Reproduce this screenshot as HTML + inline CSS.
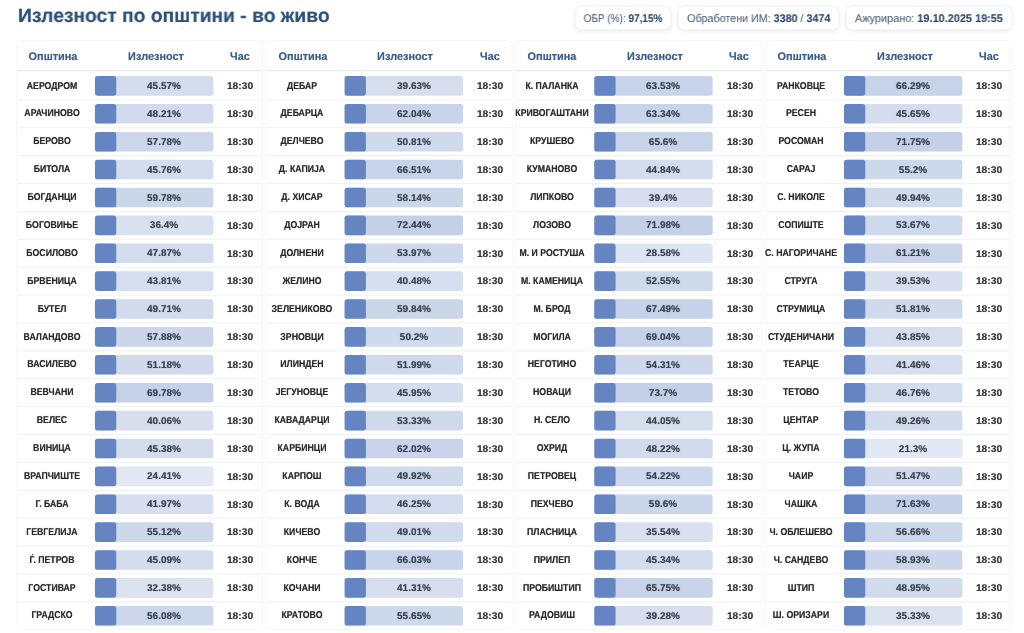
<!DOCTYPE html>
<html lang="mk"><head><meta charset="utf-8"><title>Излезност по општини</title>
<style>
*{box-sizing:border-box;margin:0;padding:0}
html,body{width:1024px;height:633px;overflow:hidden;background:#fff}
body{position:relative;font-family:"Liberation Sans",sans-serif;color:#222;text-rendering:geometricPrecision}
h1{position:absolute;left:18px;top:4.2px;font-size:19.4px;line-height:24px;font-weight:bold;color:#2c507c;white-space:nowrap;transform-origin:0 50%;transform:scaleX(.993);letter-spacing:0;will-change:transform;text-shadow:0 0 .8px rgba(44,80,124,.5)}
.pill{position:absolute;top:6px;height:23.8px;border-radius:6px;background:#fff;border:1px solid #f5f6f9;box-shadow:0 1px 4px rgba(30,50,90,.12);font-size:11.2px;line-height:24px;color:#566880;text-align:center;white-space:nowrap}
.pill b{color:#2d4a6e}
.pill span{display:inline-block;transform-origin:50% 50%;will-change:transform;text-shadow:0 0 .6px rgba(86,104,128,.4)}
.hd{position:absolute;width:0;overflow:visible;font-weight:bold;font-size:11.2px;color:#3b5f88;line-height:12px;height:12px}
.hd span,.nm span,.pc span,.tm span{position:absolute;left:-100px;width:200px;text-align:center;white-space:nowrap;display:block}
.bg{position:absolute;left:0;top:0}
.tx{position:absolute;left:0;top:0;width:1024px;height:633px;will-change:transform}
.nm,.tm{text-shadow:0 0 .8px rgba(40,40,40,.55)}
.pc{text-shadow:0 0 .8px rgba(57,65,80,.55)}
.hd{text-shadow:0 0 .8px rgba(59,95,136,.55)}
.nm{position:absolute;width:0;height:10px;font-weight:bold;font-size:10px;line-height:10px;color:#2a2a2a}
.pc{position:absolute;width:0;height:10px;font-weight:bold;font-size:9.8px;line-height:10px;color:#394150}
.tm{position:absolute;width:0;height:10px;font-weight:bold;font-size:9.8px;line-height:10px;color:#3a3a3a}
</style></head>
<body>
<h1>Излезност по општини - во живо</h1>
<div class="pill" style="left:574.5px;width:96px"><span style="transform:translateX(0.9px) scaleX(0.894)">ОБР (%): <b>97,15%</b></span></div>
<div class="pill" style="left:678.3px;width:161.2px"><span style="transform:translateX(0px) scaleX(0.959)">Обработени ИМ: <b>3380</b> / <b>3474</b></span></div>
<div class="pill" style="left:846px;width:165.8px"><span style="transform:translateX(0px) scaleX(0.975)">Ажурирано: <b>19.10.2025 19:55</b></span></div>
<svg class="bg" width="1024" height="633" viewBox="0 0 1024 633">
<rect x="16.5" y="40.6" width="246" height="588.8" rx="4" fill="#fff" stroke="#f6f7f9" stroke-width="1"/><rect x="17" y="70" width="245" height="1.2" fill="#e4e7ec"/><rect x="94.95" y="76.1" width="118.4" height="19.6" rx="2.6" fill="#6485c2" fill-opacity="0.282"/><rect x="94.95" y="76.1" width="21.3" height="19.6" rx="2.6" fill="#6485c2"/>
<rect x="17" y="99.34" width="245" height="1" fill="#f0f1f5"/><rect x="94.95" y="103.99" width="118.4" height="19.6" rx="2.6" fill="#6485c2" fill-opacity="0.293"/><rect x="94.95" y="103.99" width="21.3" height="19.6" rx="2.6" fill="#6485c2"/>
<rect x="17" y="127.23" width="245" height="1" fill="#f0f1f5"/><rect x="94.95" y="131.88" width="118.4" height="19.6" rx="2.6" fill="#6485c2" fill-opacity="0.331"/><rect x="94.95" y="131.88" width="21.3" height="19.6" rx="2.6" fill="#6485c2"/>
<rect x="17" y="155.12" width="245" height="1" fill="#f0f1f5"/><rect x="94.95" y="159.77" width="118.4" height="19.6" rx="2.6" fill="#6485c2" fill-opacity="0.283"/><rect x="94.95" y="159.77" width="21.3" height="19.6" rx="2.6" fill="#6485c2"/>
<rect x="17" y="183.01" width="245" height="1" fill="#f0f1f5"/><rect x="94.95" y="187.66" width="118.4" height="19.6" rx="2.6" fill="#6485c2" fill-opacity="0.339"/><rect x="94.95" y="187.66" width="21.3" height="19.6" rx="2.6" fill="#6485c2"/>
<rect x="17" y="210.9" width="245" height="1" fill="#f0f1f5"/><rect x="94.95" y="215.55" width="118.4" height="19.6" rx="2.6" fill="#6485c2" fill-opacity="0.246"/><rect x="94.95" y="215.55" width="21.3" height="19.6" rx="2.6" fill="#6485c2"/>
<rect x="17" y="238.79" width="245" height="1" fill="#f0f1f5"/><rect x="94.95" y="243.44" width="118.4" height="19.6" rx="2.6" fill="#6485c2" fill-opacity="0.291"/><rect x="94.95" y="243.44" width="21.3" height="19.6" rx="2.6" fill="#6485c2"/>
<rect x="17" y="266.68" width="245" height="1" fill="#f0f1f5"/><rect x="94.95" y="271.33" width="118.4" height="19.6" rx="2.6" fill="#6485c2" fill-opacity="0.275"/><rect x="94.95" y="271.33" width="21.3" height="19.6" rx="2.6" fill="#6485c2"/>
<rect x="17" y="294.57" width="245" height="1" fill="#f0f1f5"/><rect x="94.95" y="299.22" width="118.4" height="19.6" rx="2.6" fill="#6485c2" fill-opacity="0.299"/><rect x="94.95" y="299.22" width="21.3" height="19.6" rx="2.6" fill="#6485c2"/>
<rect x="17" y="322.46" width="245" height="1" fill="#f0f1f5"/><rect x="94.95" y="327.11" width="118.4" height="19.6" rx="2.6" fill="#6485c2" fill-opacity="0.332"/><rect x="94.95" y="327.11" width="21.3" height="19.6" rx="2.6" fill="#6485c2"/>
<rect x="17" y="350.35" width="245" height="1" fill="#f0f1f5"/><rect x="94.95" y="355" width="118.4" height="19.6" rx="2.6" fill="#6485c2" fill-opacity="0.305"/><rect x="94.95" y="355" width="21.3" height="19.6" rx="2.6" fill="#6485c2"/>
<rect x="17" y="378.24" width="245" height="1" fill="#f0f1f5"/><rect x="94.95" y="382.89" width="118.4" height="19.6" rx="2.6" fill="#6485c2" fill-opacity="0.379"/><rect x="94.95" y="382.89" width="21.3" height="19.6" rx="2.6" fill="#6485c2"/>
<rect x="17" y="406.13" width="245" height="1" fill="#f0f1f5"/><rect x="94.95" y="410.78" width="118.4" height="19.6" rx="2.6" fill="#6485c2" fill-opacity="0.260"/><rect x="94.95" y="410.78" width="21.3" height="19.6" rx="2.6" fill="#6485c2"/>
<rect x="17" y="434.02" width="245" height="1" fill="#f0f1f5"/><rect x="94.95" y="438.67" width="118.4" height="19.6" rx="2.6" fill="#6485c2" fill-opacity="0.282"/><rect x="94.95" y="438.67" width="21.3" height="19.6" rx="2.6" fill="#6485c2"/>
<rect x="17" y="461.91" width="245" height="1" fill="#f0f1f5"/><rect x="94.95" y="466.56" width="118.4" height="19.6" rx="2.6" fill="#6485c2" fill-opacity="0.198"/><rect x="94.95" y="466.56" width="21.3" height="19.6" rx="2.6" fill="#6485c2"/>
<rect x="17" y="489.8" width="245" height="1" fill="#f0f1f5"/><rect x="94.95" y="494.45" width="118.4" height="19.6" rx="2.6" fill="#6485c2" fill-opacity="0.268"/><rect x="94.95" y="494.45" width="21.3" height="19.6" rx="2.6" fill="#6485c2"/>
<rect x="17" y="517.69" width="245" height="1" fill="#f0f1f5"/><rect x="94.95" y="522.34" width="118.4" height="19.6" rx="2.6" fill="#6485c2" fill-opacity="0.320"/><rect x="94.95" y="522.34" width="21.3" height="19.6" rx="2.6" fill="#6485c2"/>
<rect x="17" y="545.58" width="245" height="1" fill="#f0f1f5"/><rect x="94.95" y="550.23" width="118.4" height="19.6" rx="2.6" fill="#6485c2" fill-opacity="0.280"/><rect x="94.95" y="550.23" width="21.3" height="19.6" rx="2.6" fill="#6485c2"/>
<rect x="17" y="573.47" width="245" height="1" fill="#f0f1f5"/><rect x="94.95" y="578.12" width="118.4" height="19.6" rx="2.6" fill="#6485c2" fill-opacity="0.230"/><rect x="94.95" y="578.12" width="21.3" height="19.6" rx="2.6" fill="#6485c2"/>
<rect x="17" y="601.36" width="245" height="1" fill="#f0f1f5"/><rect x="94.95" y="606.01" width="118.4" height="19.6" rx="2.6" fill="#6485c2" fill-opacity="0.324"/><rect x="94.95" y="606.01" width="21.3" height="19.6" rx="2.6" fill="#6485c2"/>
<rect x="266.17" y="40.6" width="246" height="588.8" rx="4" fill="#fff" stroke="#f6f7f9" stroke-width="1"/><rect x="266.67" y="70" width="245" height="1.2" fill="#e4e7ec"/><rect x="344.62" y="76.1" width="118.4" height="19.6" rx="2.6" fill="#6485c2" fill-opacity="0.259"/><rect x="344.62" y="76.1" width="21.3" height="19.6" rx="2.6" fill="#6485c2"/>
<rect x="266.67" y="99.34" width="245" height="1" fill="#f0f1f5"/><rect x="344.62" y="103.99" width="118.4" height="19.6" rx="2.6" fill="#6485c2" fill-opacity="0.348"/><rect x="344.62" y="103.99" width="21.3" height="19.6" rx="2.6" fill="#6485c2"/>
<rect x="266.67" y="127.23" width="245" height="1" fill="#f0f1f5"/><rect x="344.62" y="131.88" width="118.4" height="19.6" rx="2.6" fill="#6485c2" fill-opacity="0.303"/><rect x="344.62" y="131.88" width="21.3" height="19.6" rx="2.6" fill="#6485c2"/>
<rect x="266.67" y="155.12" width="245" height="1" fill="#f0f1f5"/><rect x="344.62" y="159.77" width="118.4" height="19.6" rx="2.6" fill="#6485c2" fill-opacity="0.366"/><rect x="344.62" y="159.77" width="21.3" height="19.6" rx="2.6" fill="#6485c2"/>
<rect x="266.67" y="183.01" width="245" height="1" fill="#f0f1f5"/><rect x="344.62" y="187.66" width="118.4" height="19.6" rx="2.6" fill="#6485c2" fill-opacity="0.333"/><rect x="344.62" y="187.66" width="21.3" height="19.6" rx="2.6" fill="#6485c2"/>
<rect x="266.67" y="210.9" width="245" height="1" fill="#f0f1f5"/><rect x="344.62" y="215.55" width="118.4" height="19.6" rx="2.6" fill="#6485c2" fill-opacity="0.390"/><rect x="344.62" y="215.55" width="21.3" height="19.6" rx="2.6" fill="#6485c2"/>
<rect x="266.67" y="238.79" width="245" height="1" fill="#f0f1f5"/><rect x="344.62" y="243.44" width="118.4" height="19.6" rx="2.6" fill="#6485c2" fill-opacity="0.316"/><rect x="344.62" y="243.44" width="21.3" height="19.6" rx="2.6" fill="#6485c2"/>
<rect x="266.67" y="266.68" width="245" height="1" fill="#f0f1f5"/><rect x="344.62" y="271.33" width="118.4" height="19.6" rx="2.6" fill="#6485c2" fill-opacity="0.262"/><rect x="344.62" y="271.33" width="21.3" height="19.6" rx="2.6" fill="#6485c2"/>
<rect x="266.67" y="294.57" width="245" height="1" fill="#f0f1f5"/><rect x="344.62" y="299.22" width="118.4" height="19.6" rx="2.6" fill="#6485c2" fill-opacity="0.339"/><rect x="344.62" y="299.22" width="21.3" height="19.6" rx="2.6" fill="#6485c2"/>
<rect x="266.67" y="322.46" width="245" height="1" fill="#f0f1f5"/><rect x="344.62" y="327.11" width="118.4" height="19.6" rx="2.6" fill="#6485c2" fill-opacity="0.301"/><rect x="344.62" y="327.11" width="21.3" height="19.6" rx="2.6" fill="#6485c2"/>
<rect x="266.67" y="350.35" width="245" height="1" fill="#f0f1f5"/><rect x="344.62" y="355" width="118.4" height="19.6" rx="2.6" fill="#6485c2" fill-opacity="0.308"/><rect x="344.62" y="355" width="21.3" height="19.6" rx="2.6" fill="#6485c2"/>
<rect x="266.67" y="378.24" width="245" height="1" fill="#f0f1f5"/><rect x="344.62" y="382.89" width="118.4" height="19.6" rx="2.6" fill="#6485c2" fill-opacity="0.284"/><rect x="344.62" y="382.89" width="21.3" height="19.6" rx="2.6" fill="#6485c2"/>
<rect x="266.67" y="406.13" width="245" height="1" fill="#f0f1f5"/><rect x="344.62" y="410.78" width="118.4" height="19.6" rx="2.6" fill="#6485c2" fill-opacity="0.313"/><rect x="344.62" y="410.78" width="21.3" height="19.6" rx="2.6" fill="#6485c2"/>
<rect x="266.67" y="434.02" width="245" height="1" fill="#f0f1f5"/><rect x="344.62" y="438.67" width="118.4" height="19.6" rx="2.6" fill="#6485c2" fill-opacity="0.348"/><rect x="344.62" y="438.67" width="21.3" height="19.6" rx="2.6" fill="#6485c2"/>
<rect x="266.67" y="461.91" width="245" height="1" fill="#f0f1f5"/><rect x="344.62" y="466.56" width="118.4" height="19.6" rx="2.6" fill="#6485c2" fill-opacity="0.300"/><rect x="344.62" y="466.56" width="21.3" height="19.6" rx="2.6" fill="#6485c2"/>
<rect x="266.67" y="489.8" width="245" height="1" fill="#f0f1f5"/><rect x="344.62" y="494.45" width="118.4" height="19.6" rx="2.6" fill="#6485c2" fill-opacity="0.285"/><rect x="344.62" y="494.45" width="21.3" height="19.6" rx="2.6" fill="#6485c2"/>
<rect x="266.67" y="517.69" width="245" height="1" fill="#f0f1f5"/><rect x="344.62" y="522.34" width="118.4" height="19.6" rx="2.6" fill="#6485c2" fill-opacity="0.296"/><rect x="344.62" y="522.34" width="21.3" height="19.6" rx="2.6" fill="#6485c2"/>
<rect x="266.67" y="545.58" width="245" height="1" fill="#f0f1f5"/><rect x="344.62" y="550.23" width="118.4" height="19.6" rx="2.6" fill="#6485c2" fill-opacity="0.364"/><rect x="344.62" y="550.23" width="21.3" height="19.6" rx="2.6" fill="#6485c2"/>
<rect x="266.67" y="573.47" width="245" height="1" fill="#f0f1f5"/><rect x="344.62" y="578.12" width="118.4" height="19.6" rx="2.6" fill="#6485c2" fill-opacity="0.265"/><rect x="344.62" y="578.12" width="21.3" height="19.6" rx="2.6" fill="#6485c2"/>
<rect x="266.67" y="601.36" width="245" height="1" fill="#f0f1f5"/><rect x="344.62" y="606.01" width="118.4" height="19.6" rx="2.6" fill="#6485c2" fill-opacity="0.323"/><rect x="344.62" y="606.01" width="21.3" height="19.6" rx="2.6" fill="#6485c2"/>
<rect x="515.84" y="40.6" width="246" height="588.8" rx="4" fill="#fff" stroke="#f6f7f9" stroke-width="1"/><rect x="516.34" y="70" width="245" height="1.2" fill="#e4e7ec"/><rect x="594.29" y="76.1" width="118.4" height="19.6" rx="2.6" fill="#6485c2" fill-opacity="0.354"/><rect x="594.29" y="76.1" width="21.3" height="19.6" rx="2.6" fill="#6485c2"/>
<rect x="516.34" y="99.34" width="245" height="1" fill="#f0f1f5"/><rect x="594.29" y="103.99" width="118.4" height="19.6" rx="2.6" fill="#6485c2" fill-opacity="0.353"/><rect x="594.29" y="103.99" width="21.3" height="19.6" rx="2.6" fill="#6485c2"/>
<rect x="516.34" y="127.23" width="245" height="1" fill="#f0f1f5"/><rect x="594.29" y="131.88" width="118.4" height="19.6" rx="2.6" fill="#6485c2" fill-opacity="0.362"/><rect x="594.29" y="131.88" width="21.3" height="19.6" rx="2.6" fill="#6485c2"/>
<rect x="516.34" y="155.12" width="245" height="1" fill="#f0f1f5"/><rect x="594.29" y="159.77" width="118.4" height="19.6" rx="2.6" fill="#6485c2" fill-opacity="0.279"/><rect x="594.29" y="159.77" width="21.3" height="19.6" rx="2.6" fill="#6485c2"/>
<rect x="516.34" y="183.01" width="245" height="1" fill="#f0f1f5"/><rect x="594.29" y="187.66" width="118.4" height="19.6" rx="2.6" fill="#6485c2" fill-opacity="0.258"/><rect x="594.29" y="187.66" width="21.3" height="19.6" rx="2.6" fill="#6485c2"/>
<rect x="516.34" y="210.9" width="245" height="1" fill="#f0f1f5"/><rect x="594.29" y="215.55" width="118.4" height="19.6" rx="2.6" fill="#6485c2" fill-opacity="0.388"/><rect x="594.29" y="215.55" width="21.3" height="19.6" rx="2.6" fill="#6485c2"/>
<rect x="516.34" y="238.79" width="245" height="1" fill="#f0f1f5"/><rect x="594.29" y="243.44" width="118.4" height="19.6" rx="2.6" fill="#6485c2" fill-opacity="0.214"/><rect x="594.29" y="243.44" width="21.3" height="19.6" rx="2.6" fill="#6485c2"/>
<rect x="516.34" y="266.68" width="245" height="1" fill="#f0f1f5"/><rect x="594.29" y="271.33" width="118.4" height="19.6" rx="2.6" fill="#6485c2" fill-opacity="0.310"/><rect x="594.29" y="271.33" width="21.3" height="19.6" rx="2.6" fill="#6485c2"/>
<rect x="516.34" y="294.57" width="245" height="1" fill="#f0f1f5"/><rect x="594.29" y="299.22" width="118.4" height="19.6" rx="2.6" fill="#6485c2" fill-opacity="0.370"/><rect x="594.29" y="299.22" width="21.3" height="19.6" rx="2.6" fill="#6485c2"/>
<rect x="516.34" y="322.46" width="245" height="1" fill="#f0f1f5"/><rect x="594.29" y="327.11" width="118.4" height="19.6" rx="2.6" fill="#6485c2" fill-opacity="0.376"/><rect x="594.29" y="327.11" width="21.3" height="19.6" rx="2.6" fill="#6485c2"/>
<rect x="516.34" y="350.35" width="245" height="1" fill="#f0f1f5"/><rect x="594.29" y="355" width="118.4" height="19.6" rx="2.6" fill="#6485c2" fill-opacity="0.317"/><rect x="594.29" y="355" width="21.3" height="19.6" rx="2.6" fill="#6485c2"/>
<rect x="516.34" y="378.24" width="245" height="1" fill="#f0f1f5"/><rect x="594.29" y="382.89" width="118.4" height="19.6" rx="2.6" fill="#6485c2" fill-opacity="0.395"/><rect x="594.29" y="382.89" width="21.3" height="19.6" rx="2.6" fill="#6485c2"/>
<rect x="516.34" y="406.13" width="245" height="1" fill="#f0f1f5"/><rect x="594.29" y="410.78" width="118.4" height="19.6" rx="2.6" fill="#6485c2" fill-opacity="0.276"/><rect x="594.29" y="410.78" width="21.3" height="19.6" rx="2.6" fill="#6485c2"/>
<rect x="516.34" y="434.02" width="245" height="1" fill="#f0f1f5"/><rect x="594.29" y="438.67" width="118.4" height="19.6" rx="2.6" fill="#6485c2" fill-opacity="0.293"/><rect x="594.29" y="438.67" width="21.3" height="19.6" rx="2.6" fill="#6485c2"/>
<rect x="516.34" y="461.91" width="245" height="1" fill="#f0f1f5"/><rect x="594.29" y="466.56" width="118.4" height="19.6" rx="2.6" fill="#6485c2" fill-opacity="0.317"/><rect x="594.29" y="466.56" width="21.3" height="19.6" rx="2.6" fill="#6485c2"/>
<rect x="516.34" y="489.8" width="245" height="1" fill="#f0f1f5"/><rect x="594.29" y="494.45" width="118.4" height="19.6" rx="2.6" fill="#6485c2" fill-opacity="0.338"/><rect x="594.29" y="494.45" width="21.3" height="19.6" rx="2.6" fill="#6485c2"/>
<rect x="516.34" y="517.69" width="245" height="1" fill="#f0f1f5"/><rect x="594.29" y="522.34" width="118.4" height="19.6" rx="2.6" fill="#6485c2" fill-opacity="0.242"/><rect x="594.29" y="522.34" width="21.3" height="19.6" rx="2.6" fill="#6485c2"/>
<rect x="516.34" y="545.58" width="245" height="1" fill="#f0f1f5"/><rect x="594.29" y="550.23" width="118.4" height="19.6" rx="2.6" fill="#6485c2" fill-opacity="0.281"/><rect x="594.29" y="550.23" width="21.3" height="19.6" rx="2.6" fill="#6485c2"/>
<rect x="516.34" y="573.47" width="245" height="1" fill="#f0f1f5"/><rect x="594.29" y="578.12" width="118.4" height="19.6" rx="2.6" fill="#6485c2" fill-opacity="0.363"/><rect x="594.29" y="578.12" width="21.3" height="19.6" rx="2.6" fill="#6485c2"/>
<rect x="516.34" y="601.36" width="245" height="1" fill="#f0f1f5"/><rect x="594.29" y="606.01" width="118.4" height="19.6" rx="2.6" fill="#6485c2" fill-opacity="0.257"/><rect x="594.29" y="606.01" width="21.3" height="19.6" rx="2.6" fill="#6485c2"/>
<rect x="765.51" y="40.6" width="246" height="588.8" rx="4" fill="#fff" stroke="#f6f7f9" stroke-width="1"/><rect x="766.01" y="70" width="245" height="1.2" fill="#e4e7ec"/><rect x="843.96" y="76.1" width="118.4" height="19.6" rx="2.6" fill="#6485c2" fill-opacity="0.365"/><rect x="843.96" y="76.1" width="21.3" height="19.6" rx="2.6" fill="#6485c2"/>
<rect x="766.01" y="99.34" width="245" height="1" fill="#f0f1f5"/><rect x="843.96" y="103.99" width="118.4" height="19.6" rx="2.6" fill="#6485c2" fill-opacity="0.283"/><rect x="843.96" y="103.99" width="21.3" height="19.6" rx="2.6" fill="#6485c2"/>
<rect x="766.01" y="127.23" width="245" height="1" fill="#f0f1f5"/><rect x="843.96" y="131.88" width="118.4" height="19.6" rx="2.6" fill="#6485c2" fill-opacity="0.387"/><rect x="843.96" y="131.88" width="21.3" height="19.6" rx="2.6" fill="#6485c2"/>
<rect x="766.01" y="155.12" width="245" height="1" fill="#f0f1f5"/><rect x="843.96" y="159.77" width="118.4" height="19.6" rx="2.6" fill="#6485c2" fill-opacity="0.321"/><rect x="843.96" y="159.77" width="21.3" height="19.6" rx="2.6" fill="#6485c2"/>
<rect x="766.01" y="183.01" width="245" height="1" fill="#f0f1f5"/><rect x="843.96" y="187.66" width="118.4" height="19.6" rx="2.6" fill="#6485c2" fill-opacity="0.300"/><rect x="843.96" y="187.66" width="21.3" height="19.6" rx="2.6" fill="#6485c2"/>
<rect x="766.01" y="210.9" width="245" height="1" fill="#f0f1f5"/><rect x="843.96" y="215.55" width="118.4" height="19.6" rx="2.6" fill="#6485c2" fill-opacity="0.315"/><rect x="843.96" y="215.55" width="21.3" height="19.6" rx="2.6" fill="#6485c2"/>
<rect x="766.01" y="238.79" width="245" height="1" fill="#f0f1f5"/><rect x="843.96" y="243.44" width="118.4" height="19.6" rx="2.6" fill="#6485c2" fill-opacity="0.345"/><rect x="843.96" y="243.44" width="21.3" height="19.6" rx="2.6" fill="#6485c2"/>
<rect x="766.01" y="266.68" width="245" height="1" fill="#f0f1f5"/><rect x="843.96" y="271.33" width="118.4" height="19.6" rx="2.6" fill="#6485c2" fill-opacity="0.258"/><rect x="843.96" y="271.33" width="21.3" height="19.6" rx="2.6" fill="#6485c2"/>
<rect x="766.01" y="294.57" width="245" height="1" fill="#f0f1f5"/><rect x="843.96" y="299.22" width="118.4" height="19.6" rx="2.6" fill="#6485c2" fill-opacity="0.307"/><rect x="843.96" y="299.22" width="21.3" height="19.6" rx="2.6" fill="#6485c2"/>
<rect x="766.01" y="322.46" width="245" height="1" fill="#f0f1f5"/><rect x="843.96" y="327.11" width="118.4" height="19.6" rx="2.6" fill="#6485c2" fill-opacity="0.275"/><rect x="843.96" y="327.11" width="21.3" height="19.6" rx="2.6" fill="#6485c2"/>
<rect x="766.01" y="350.35" width="245" height="1" fill="#f0f1f5"/><rect x="843.96" y="355" width="118.4" height="19.6" rx="2.6" fill="#6485c2" fill-opacity="0.266"/><rect x="843.96" y="355" width="21.3" height="19.6" rx="2.6" fill="#6485c2"/>
<rect x="766.01" y="378.24" width="245" height="1" fill="#f0f1f5"/><rect x="843.96" y="382.89" width="118.4" height="19.6" rx="2.6" fill="#6485c2" fill-opacity="0.287"/><rect x="843.96" y="382.89" width="21.3" height="19.6" rx="2.6" fill="#6485c2"/>
<rect x="766.01" y="406.13" width="245" height="1" fill="#f0f1f5"/><rect x="843.96" y="410.78" width="118.4" height="19.6" rx="2.6" fill="#6485c2" fill-opacity="0.297"/><rect x="843.96" y="410.78" width="21.3" height="19.6" rx="2.6" fill="#6485c2"/>
<rect x="766.01" y="434.02" width="245" height="1" fill="#f0f1f5"/><rect x="843.96" y="438.67" width="118.4" height="19.6" rx="2.6" fill="#6485c2" fill-opacity="0.185"/><rect x="843.96" y="438.67" width="21.3" height="19.6" rx="2.6" fill="#6485c2"/>
<rect x="766.01" y="461.91" width="245" height="1" fill="#f0f1f5"/><rect x="843.96" y="466.56" width="118.4" height="19.6" rx="2.6" fill="#6485c2" fill-opacity="0.306"/><rect x="843.96" y="466.56" width="21.3" height="19.6" rx="2.6" fill="#6485c2"/>
<rect x="766.01" y="489.8" width="245" height="1" fill="#f0f1f5"/><rect x="843.96" y="494.45" width="118.4" height="19.6" rx="2.6" fill="#6485c2" fill-opacity="0.387"/><rect x="843.96" y="494.45" width="21.3" height="19.6" rx="2.6" fill="#6485c2"/>
<rect x="766.01" y="517.69" width="245" height="1" fill="#f0f1f5"/><rect x="843.96" y="522.34" width="118.4" height="19.6" rx="2.6" fill="#6485c2" fill-opacity="0.327"/><rect x="843.96" y="522.34" width="21.3" height="19.6" rx="2.6" fill="#6485c2"/>
<rect x="766.01" y="545.58" width="245" height="1" fill="#f0f1f5"/><rect x="843.96" y="550.23" width="118.4" height="19.6" rx="2.6" fill="#6485c2" fill-opacity="0.336"/><rect x="843.96" y="550.23" width="21.3" height="19.6" rx="2.6" fill="#6485c2"/>
<rect x="766.01" y="573.47" width="245" height="1" fill="#f0f1f5"/><rect x="843.96" y="578.12" width="118.4" height="19.6" rx="2.6" fill="#6485c2" fill-opacity="0.296"/><rect x="843.96" y="578.12" width="21.3" height="19.6" rx="2.6" fill="#6485c2"/>
<rect x="766.01" y="601.36" width="245" height="1" fill="#f0f1f5"/><rect x="843.96" y="606.01" width="118.4" height="19.6" rx="2.6" fill="#6485c2" fill-opacity="0.241"/><rect x="843.96" y="606.01" width="21.3" height="19.6" rx="2.6" fill="#6485c2"/>
</svg>
<div class="tx">
<div class="hd" style="left:52.9px;top:50.8px"><span style="transform:scaleX(.975)">Општина</span></div><div class="hd" style="left:155.5px;top:50.8px"><span style="transform:scaleX(.975)">Излезност</span></div><div class="hd" style="left:240.1px;top:50.8px"><span style="transform:scaleX(.975)">Час</span></div>
<div class="nm" style="left:52.2px;top:81.5px"><span style="transform:scaleX(.872)">АЕРОДРОМ</span></div><div class="pc" style="left:164.1px;top:82px"><span style="transform:scaleX(1.02)">45.57%</span></div><div class="tm" style="left:240.2px;top:82.2px"><span style="transform:scaleX(1.045)">18:30</span></div>
<div class="nm" style="left:52.2px;top:109.39px"><span style="transform:scaleX(.872)">АРАЧИНОВО</span></div><div class="pc" style="left:164.1px;top:109.89px"><span style="transform:scaleX(1.02)">48.21%</span></div><div class="tm" style="left:240.2px;top:110.09px"><span style="transform:scaleX(1.045)">18:30</span></div>
<div class="nm" style="left:52.2px;top:137.28px"><span style="transform:scaleX(.872)">БЕРОВО</span></div><div class="pc" style="left:164.1px;top:137.78px"><span style="transform:scaleX(1.02)">57.78%</span></div><div class="tm" style="left:240.2px;top:137.98px"><span style="transform:scaleX(1.045)">18:30</span></div>
<div class="nm" style="left:52.2px;top:165.17px"><span style="transform:scaleX(.872)">БИТОЛА</span></div><div class="pc" style="left:164.1px;top:165.67px"><span style="transform:scaleX(1.02)">45.76%</span></div><div class="tm" style="left:240.2px;top:165.87px"><span style="transform:scaleX(1.045)">18:30</span></div>
<div class="nm" style="left:52.2px;top:193.06px"><span style="transform:scaleX(.872)">БОГДАНЦИ</span></div><div class="pc" style="left:164.1px;top:193.56px"><span style="transform:scaleX(1.02)">59.78%</span></div><div class="tm" style="left:240.2px;top:193.76px"><span style="transform:scaleX(1.045)">18:30</span></div>
<div class="nm" style="left:52.2px;top:220.95px"><span style="transform:scaleX(.872)">БОГОВИЊЕ</span></div><div class="pc" style="left:164.1px;top:221.45px"><span style="transform:scaleX(1.02)">36.4%</span></div><div class="tm" style="left:240.2px;top:221.65px"><span style="transform:scaleX(1.045)">18:30</span></div>
<div class="nm" style="left:52.2px;top:248.84px"><span style="transform:scaleX(.872)">БОСИЛОВО</span></div><div class="pc" style="left:164.1px;top:249.34px"><span style="transform:scaleX(1.02)">47.87%</span></div><div class="tm" style="left:240.2px;top:249.54px"><span style="transform:scaleX(1.045)">18:30</span></div>
<div class="nm" style="left:52.2px;top:276.73px"><span style="transform:scaleX(.872)">БРВЕНИЦА</span></div><div class="pc" style="left:164.1px;top:277.23px"><span style="transform:scaleX(1.02)">43.81%</span></div><div class="tm" style="left:240.2px;top:277.43px"><span style="transform:scaleX(1.045)">18:30</span></div>
<div class="nm" style="left:52.2px;top:304.62px"><span style="transform:scaleX(.872)">БУТЕЛ</span></div><div class="pc" style="left:164.1px;top:305.12px"><span style="transform:scaleX(1.02)">49.71%</span></div><div class="tm" style="left:240.2px;top:305.32px"><span style="transform:scaleX(1.045)">18:30</span></div>
<div class="nm" style="left:52.2px;top:332.51px"><span style="transform:scaleX(.872)">ВАЛАНДОВО</span></div><div class="pc" style="left:164.1px;top:333.01px"><span style="transform:scaleX(1.02)">57.88%</span></div><div class="tm" style="left:240.2px;top:333.21px"><span style="transform:scaleX(1.045)">18:30</span></div>
<div class="nm" style="left:52.2px;top:360.4px"><span style="transform:scaleX(.872)">ВАСИЛЕВО</span></div><div class="pc" style="left:164.1px;top:360.9px"><span style="transform:scaleX(1.02)">51.18%</span></div><div class="tm" style="left:240.2px;top:361.1px"><span style="transform:scaleX(1.045)">18:30</span></div>
<div class="nm" style="left:52.2px;top:388.29px"><span style="transform:scaleX(.872)">ВЕВЧАНИ</span></div><div class="pc" style="left:164.1px;top:388.79px"><span style="transform:scaleX(1.02)">69.78%</span></div><div class="tm" style="left:240.2px;top:388.99px"><span style="transform:scaleX(1.045)">18:30</span></div>
<div class="nm" style="left:52.2px;top:416.18px"><span style="transform:scaleX(.872)">ВЕЛЕС</span></div><div class="pc" style="left:164.1px;top:416.68px"><span style="transform:scaleX(1.02)">40.06%</span></div><div class="tm" style="left:240.2px;top:416.88px"><span style="transform:scaleX(1.045)">18:30</span></div>
<div class="nm" style="left:52.2px;top:444.07px"><span style="transform:scaleX(.872)">ВИНИЦА</span></div><div class="pc" style="left:164.1px;top:444.57px"><span style="transform:scaleX(1.02)">45.38%</span></div><div class="tm" style="left:240.2px;top:444.77px"><span style="transform:scaleX(1.045)">18:30</span></div>
<div class="nm" style="left:52.2px;top:471.96px"><span style="transform:scaleX(.872)">ВРАПЧИШТЕ</span></div><div class="pc" style="left:164.1px;top:472.46px"><span style="transform:scaleX(1.02)">24.41%</span></div><div class="tm" style="left:240.2px;top:472.66px"><span style="transform:scaleX(1.045)">18:30</span></div>
<div class="nm" style="left:52.2px;top:499.85px"><span style="transform:scaleX(.872)">Г. БАБА</span></div><div class="pc" style="left:164.1px;top:500.35px"><span style="transform:scaleX(1.02)">41.97%</span></div><div class="tm" style="left:240.2px;top:500.55px"><span style="transform:scaleX(1.045)">18:30</span></div>
<div class="nm" style="left:52.2px;top:527.74px"><span style="transform:scaleX(.872)">ГЕВГЕЛИЈА</span></div><div class="pc" style="left:164.1px;top:528.24px"><span style="transform:scaleX(1.02)">55.12%</span></div><div class="tm" style="left:240.2px;top:528.44px"><span style="transform:scaleX(1.045)">18:30</span></div>
<div class="nm" style="left:52.2px;top:555.63px"><span style="transform:scaleX(.872)">Ѓ. ПЕТРОВ</span></div><div class="pc" style="left:164.1px;top:556.13px"><span style="transform:scaleX(1.02)">45.09%</span></div><div class="tm" style="left:240.2px;top:556.33px"><span style="transform:scaleX(1.045)">18:30</span></div>
<div class="nm" style="left:52.2px;top:583.52px"><span style="transform:scaleX(.872)">ГОСТИВАР</span></div><div class="pc" style="left:164.1px;top:584.02px"><span style="transform:scaleX(1.02)">32.38%</span></div><div class="tm" style="left:240.2px;top:584.22px"><span style="transform:scaleX(1.045)">18:30</span></div>
<div class="nm" style="left:52.2px;top:611.41px"><span style="transform:scaleX(.872)">ГРАДСКО</span></div><div class="pc" style="left:164.1px;top:611.91px"><span style="transform:scaleX(1.02)">56.08%</span></div><div class="tm" style="left:240.2px;top:612.11px"><span style="transform:scaleX(1.045)">18:30</span></div>
<div class="hd" style="left:302.57px;top:50.8px"><span style="transform:scaleX(.975)">Општина</span></div><div class="hd" style="left:405.17px;top:50.8px"><span style="transform:scaleX(.975)">Излезност</span></div><div class="hd" style="left:489.77px;top:50.8px"><span style="transform:scaleX(.975)">Час</span></div>
<div class="nm" style="left:301.87px;top:81.5px"><span style="transform:scaleX(.872)">ДЕБАР</span></div><div class="pc" style="left:413.77px;top:82px"><span style="transform:scaleX(1.02)">39.63%</span></div><div class="tm" style="left:489.87px;top:82.2px"><span style="transform:scaleX(1.045)">18:30</span></div>
<div class="nm" style="left:301.87px;top:109.39px"><span style="transform:scaleX(.872)">ДЕБАРЦА</span></div><div class="pc" style="left:413.77px;top:109.89px"><span style="transform:scaleX(1.02)">62.04%</span></div><div class="tm" style="left:489.87px;top:110.09px"><span style="transform:scaleX(1.045)">18:30</span></div>
<div class="nm" style="left:301.87px;top:137.28px"><span style="transform:scaleX(.872)">ДЕЛЧЕВО</span></div><div class="pc" style="left:413.77px;top:137.78px"><span style="transform:scaleX(1.02)">50.81%</span></div><div class="tm" style="left:489.87px;top:137.98px"><span style="transform:scaleX(1.045)">18:30</span></div>
<div class="nm" style="left:301.87px;top:165.17px"><span style="transform:scaleX(.872)">Д. КАПИЈА</span></div><div class="pc" style="left:413.77px;top:165.67px"><span style="transform:scaleX(1.02)">66.51%</span></div><div class="tm" style="left:489.87px;top:165.87px"><span style="transform:scaleX(1.045)">18:30</span></div>
<div class="nm" style="left:301.87px;top:193.06px"><span style="transform:scaleX(.872)">Д. ХИСАР</span></div><div class="pc" style="left:413.77px;top:193.56px"><span style="transform:scaleX(1.02)">58.14%</span></div><div class="tm" style="left:489.87px;top:193.76px"><span style="transform:scaleX(1.045)">18:30</span></div>
<div class="nm" style="left:301.87px;top:220.95px"><span style="transform:scaleX(.872)">ДОЈРАН</span></div><div class="pc" style="left:413.77px;top:221.45px"><span style="transform:scaleX(1.02)">72.44%</span></div><div class="tm" style="left:489.87px;top:221.65px"><span style="transform:scaleX(1.045)">18:30</span></div>
<div class="nm" style="left:301.87px;top:248.84px"><span style="transform:scaleX(.872)">ДОЛНЕНИ</span></div><div class="pc" style="left:413.77px;top:249.34px"><span style="transform:scaleX(1.02)">53.97%</span></div><div class="tm" style="left:489.87px;top:249.54px"><span style="transform:scaleX(1.045)">18:30</span></div>
<div class="nm" style="left:301.87px;top:276.73px"><span style="transform:scaleX(.872)">ЖЕЛИНО</span></div><div class="pc" style="left:413.77px;top:277.23px"><span style="transform:scaleX(1.02)">40.48%</span></div><div class="tm" style="left:489.87px;top:277.43px"><span style="transform:scaleX(1.045)">18:30</span></div>
<div class="nm" style="left:301.87px;top:304.62px"><span style="transform:scaleX(.872)">ЗЕЛЕНИКОВО</span></div><div class="pc" style="left:413.77px;top:305.12px"><span style="transform:scaleX(1.02)">59.84%</span></div><div class="tm" style="left:489.87px;top:305.32px"><span style="transform:scaleX(1.045)">18:30</span></div>
<div class="nm" style="left:301.87px;top:332.51px"><span style="transform:scaleX(.872)">ЗРНОВЦИ</span></div><div class="pc" style="left:413.77px;top:333.01px"><span style="transform:scaleX(1.02)">50.2%</span></div><div class="tm" style="left:489.87px;top:333.21px"><span style="transform:scaleX(1.045)">18:30</span></div>
<div class="nm" style="left:301.87px;top:360.4px"><span style="transform:scaleX(.872)">ИЛИНДЕН</span></div><div class="pc" style="left:413.77px;top:360.9px"><span style="transform:scaleX(1.02)">51.99%</span></div><div class="tm" style="left:489.87px;top:361.1px"><span style="transform:scaleX(1.045)">18:30</span></div>
<div class="nm" style="left:301.87px;top:388.29px"><span style="transform:scaleX(.872)">ЈЕГУНОВЦЕ</span></div><div class="pc" style="left:413.77px;top:388.79px"><span style="transform:scaleX(1.02)">45.95%</span></div><div class="tm" style="left:489.87px;top:388.99px"><span style="transform:scaleX(1.045)">18:30</span></div>
<div class="nm" style="left:301.87px;top:416.18px"><span style="transform:scaleX(.872)">КАВАДАРЦИ</span></div><div class="pc" style="left:413.77px;top:416.68px"><span style="transform:scaleX(1.02)">53.33%</span></div><div class="tm" style="left:489.87px;top:416.88px"><span style="transform:scaleX(1.045)">18:30</span></div>
<div class="nm" style="left:301.87px;top:444.07px"><span style="transform:scaleX(.872)">КАРБИНЦИ</span></div><div class="pc" style="left:413.77px;top:444.57px"><span style="transform:scaleX(1.02)">62.02%</span></div><div class="tm" style="left:489.87px;top:444.77px"><span style="transform:scaleX(1.045)">18:30</span></div>
<div class="nm" style="left:301.87px;top:471.96px"><span style="transform:scaleX(.872)">КАРПОШ</span></div><div class="pc" style="left:413.77px;top:472.46px"><span style="transform:scaleX(1.02)">49.92%</span></div><div class="tm" style="left:489.87px;top:472.66px"><span style="transform:scaleX(1.045)">18:30</span></div>
<div class="nm" style="left:301.87px;top:499.85px"><span style="transform:scaleX(.872)">К. ВОДА</span></div><div class="pc" style="left:413.77px;top:500.35px"><span style="transform:scaleX(1.02)">46.25%</span></div><div class="tm" style="left:489.87px;top:500.55px"><span style="transform:scaleX(1.045)">18:30</span></div>
<div class="nm" style="left:301.87px;top:527.74px"><span style="transform:scaleX(.872)">КИЧЕВО</span></div><div class="pc" style="left:413.77px;top:528.24px"><span style="transform:scaleX(1.02)">49.01%</span></div><div class="tm" style="left:489.87px;top:528.44px"><span style="transform:scaleX(1.045)">18:30</span></div>
<div class="nm" style="left:301.87px;top:555.63px"><span style="transform:scaleX(.872)">КОНЧЕ</span></div><div class="pc" style="left:413.77px;top:556.13px"><span style="transform:scaleX(1.02)">66.03%</span></div><div class="tm" style="left:489.87px;top:556.33px"><span style="transform:scaleX(1.045)">18:30</span></div>
<div class="nm" style="left:301.87px;top:583.52px"><span style="transform:scaleX(.872)">КОЧАНИ</span></div><div class="pc" style="left:413.77px;top:584.02px"><span style="transform:scaleX(1.02)">41.31%</span></div><div class="tm" style="left:489.87px;top:584.22px"><span style="transform:scaleX(1.045)">18:30</span></div>
<div class="nm" style="left:301.87px;top:611.41px"><span style="transform:scaleX(.872)">КРАТОВО</span></div><div class="pc" style="left:413.77px;top:611.91px"><span style="transform:scaleX(1.02)">55.65%</span></div><div class="tm" style="left:489.87px;top:612.11px"><span style="transform:scaleX(1.045)">18:30</span></div>
<div class="hd" style="left:552.24px;top:50.8px"><span style="transform:scaleX(.975)">Општина</span></div><div class="hd" style="left:654.84px;top:50.8px"><span style="transform:scaleX(.975)">Излезност</span></div><div class="hd" style="left:739.44px;top:50.8px"><span style="transform:scaleX(.975)">Час</span></div>
<div class="nm" style="left:551.54px;top:81.5px"><span style="transform:scaleX(.872)">К. ПАЛАНКА</span></div><div class="pc" style="left:663.44px;top:82px"><span style="transform:scaleX(1.02)">63.53%</span></div><div class="tm" style="left:739.54px;top:82.2px"><span style="transform:scaleX(1.045)">18:30</span></div>
<div class="nm" style="left:551.54px;top:109.39px"><span style="transform:scaleX(.872)">КРИВОГАШТАНИ</span></div><div class="pc" style="left:663.44px;top:109.89px"><span style="transform:scaleX(1.02)">63.34%</span></div><div class="tm" style="left:739.54px;top:110.09px"><span style="transform:scaleX(1.045)">18:30</span></div>
<div class="nm" style="left:551.54px;top:137.28px"><span style="transform:scaleX(.872)">КРУШЕВО</span></div><div class="pc" style="left:663.44px;top:137.78px"><span style="transform:scaleX(1.02)">65.6%</span></div><div class="tm" style="left:739.54px;top:137.98px"><span style="transform:scaleX(1.045)">18:30</span></div>
<div class="nm" style="left:551.54px;top:165.17px"><span style="transform:scaleX(.872)">КУМАНОВО</span></div><div class="pc" style="left:663.44px;top:165.67px"><span style="transform:scaleX(1.02)">44.84%</span></div><div class="tm" style="left:739.54px;top:165.87px"><span style="transform:scaleX(1.045)">18:30</span></div>
<div class="nm" style="left:551.54px;top:193.06px"><span style="transform:scaleX(.872)">ЛИПКОВО</span></div><div class="pc" style="left:663.44px;top:193.56px"><span style="transform:scaleX(1.02)">39.4%</span></div><div class="tm" style="left:739.54px;top:193.76px"><span style="transform:scaleX(1.045)">18:30</span></div>
<div class="nm" style="left:551.54px;top:220.95px"><span style="transform:scaleX(.872)">ЛОЗОВО</span></div><div class="pc" style="left:663.44px;top:221.45px"><span style="transform:scaleX(1.02)">71.98%</span></div><div class="tm" style="left:739.54px;top:221.65px"><span style="transform:scaleX(1.045)">18:30</span></div>
<div class="nm" style="left:551.54px;top:248.84px"><span style="transform:scaleX(.872)">М. И РОСТУША</span></div><div class="pc" style="left:663.44px;top:249.34px"><span style="transform:scaleX(1.02)">28.58%</span></div><div class="tm" style="left:739.54px;top:249.54px"><span style="transform:scaleX(1.045)">18:30</span></div>
<div class="nm" style="left:551.54px;top:276.73px"><span style="transform:scaleX(.872)">М. КАМЕНИЦА</span></div><div class="pc" style="left:663.44px;top:277.23px"><span style="transform:scaleX(1.02)">52.55%</span></div><div class="tm" style="left:739.54px;top:277.43px"><span style="transform:scaleX(1.045)">18:30</span></div>
<div class="nm" style="left:551.54px;top:304.62px"><span style="transform:scaleX(.872)">М. БРОД</span></div><div class="pc" style="left:663.44px;top:305.12px"><span style="transform:scaleX(1.02)">67.49%</span></div><div class="tm" style="left:739.54px;top:305.32px"><span style="transform:scaleX(1.045)">18:30</span></div>
<div class="nm" style="left:551.54px;top:332.51px"><span style="transform:scaleX(.872)">МОГИЛА</span></div><div class="pc" style="left:663.44px;top:333.01px"><span style="transform:scaleX(1.02)">69.04%</span></div><div class="tm" style="left:739.54px;top:333.21px"><span style="transform:scaleX(1.045)">18:30</span></div>
<div class="nm" style="left:551.54px;top:360.4px"><span style="transform:scaleX(.872)">НЕГОТИНО</span></div><div class="pc" style="left:663.44px;top:360.9px"><span style="transform:scaleX(1.02)">54.31%</span></div><div class="tm" style="left:739.54px;top:361.1px"><span style="transform:scaleX(1.045)">18:30</span></div>
<div class="nm" style="left:551.54px;top:388.29px"><span style="transform:scaleX(.872)">НОВАЦИ</span></div><div class="pc" style="left:663.44px;top:388.79px"><span style="transform:scaleX(1.02)">73.7%</span></div><div class="tm" style="left:739.54px;top:388.99px"><span style="transform:scaleX(1.045)">18:30</span></div>
<div class="nm" style="left:551.54px;top:416.18px"><span style="transform:scaleX(.872)">Н. СЕЛО</span></div><div class="pc" style="left:663.44px;top:416.68px"><span style="transform:scaleX(1.02)">44.05%</span></div><div class="tm" style="left:739.54px;top:416.88px"><span style="transform:scaleX(1.045)">18:30</span></div>
<div class="nm" style="left:551.54px;top:444.07px"><span style="transform:scaleX(.872)">ОХРИД</span></div><div class="pc" style="left:663.44px;top:444.57px"><span style="transform:scaleX(1.02)">48.22%</span></div><div class="tm" style="left:739.54px;top:444.77px"><span style="transform:scaleX(1.045)">18:30</span></div>
<div class="nm" style="left:551.54px;top:471.96px"><span style="transform:scaleX(.872)">ПЕТРОВЕЦ</span></div><div class="pc" style="left:663.44px;top:472.46px"><span style="transform:scaleX(1.02)">54.22%</span></div><div class="tm" style="left:739.54px;top:472.66px"><span style="transform:scaleX(1.045)">18:30</span></div>
<div class="nm" style="left:551.54px;top:499.85px"><span style="transform:scaleX(.872)">ПЕХЧЕВО</span></div><div class="pc" style="left:663.44px;top:500.35px"><span style="transform:scaleX(1.02)">59.6%</span></div><div class="tm" style="left:739.54px;top:500.55px"><span style="transform:scaleX(1.045)">18:30</span></div>
<div class="nm" style="left:551.54px;top:527.74px"><span style="transform:scaleX(.872)">ПЛАСНИЦА</span></div><div class="pc" style="left:663.44px;top:528.24px"><span style="transform:scaleX(1.02)">35.54%</span></div><div class="tm" style="left:739.54px;top:528.44px"><span style="transform:scaleX(1.045)">18:30</span></div>
<div class="nm" style="left:551.54px;top:555.63px"><span style="transform:scaleX(.872)">ПРИЛЕП</span></div><div class="pc" style="left:663.44px;top:556.13px"><span style="transform:scaleX(1.02)">45.34%</span></div><div class="tm" style="left:739.54px;top:556.33px"><span style="transform:scaleX(1.045)">18:30</span></div>
<div class="nm" style="left:551.54px;top:583.52px"><span style="transform:scaleX(.872)">ПРОБИШТИП</span></div><div class="pc" style="left:663.44px;top:584.02px"><span style="transform:scaleX(1.02)">65.75%</span></div><div class="tm" style="left:739.54px;top:584.22px"><span style="transform:scaleX(1.045)">18:30</span></div>
<div class="nm" style="left:551.54px;top:611.41px"><span style="transform:scaleX(.872)">РАДОВИШ</span></div><div class="pc" style="left:663.44px;top:611.91px"><span style="transform:scaleX(1.02)">39.28%</span></div><div class="tm" style="left:739.54px;top:612.11px"><span style="transform:scaleX(1.045)">18:30</span></div>
<div class="hd" style="left:801.91px;top:50.8px"><span style="transform:scaleX(.975)">Општина</span></div><div class="hd" style="left:904.51px;top:50.8px"><span style="transform:scaleX(.975)">Излезност</span></div><div class="hd" style="left:989.11px;top:50.8px"><span style="transform:scaleX(.975)">Час</span></div>
<div class="nm" style="left:801.21px;top:81.5px"><span style="transform:scaleX(.872)">РАНКОВЦЕ</span></div><div class="pc" style="left:913.11px;top:82px"><span style="transform:scaleX(1.02)">66.29%</span></div><div class="tm" style="left:989.21px;top:82.2px"><span style="transform:scaleX(1.045)">18:30</span></div>
<div class="nm" style="left:801.21px;top:109.39px"><span style="transform:scaleX(.872)">РЕСЕН</span></div><div class="pc" style="left:913.11px;top:109.89px"><span style="transform:scaleX(1.02)">45.65%</span></div><div class="tm" style="left:989.21px;top:110.09px"><span style="transform:scaleX(1.045)">18:30</span></div>
<div class="nm" style="left:801.21px;top:137.28px"><span style="transform:scaleX(.872)">РОСОМАН</span></div><div class="pc" style="left:913.11px;top:137.78px"><span style="transform:scaleX(1.02)">71.75%</span></div><div class="tm" style="left:989.21px;top:137.98px"><span style="transform:scaleX(1.045)">18:30</span></div>
<div class="nm" style="left:801.21px;top:165.17px"><span style="transform:scaleX(.872)">САРАЈ</span></div><div class="pc" style="left:913.11px;top:165.67px"><span style="transform:scaleX(1.02)">55.2%</span></div><div class="tm" style="left:989.21px;top:165.87px"><span style="transform:scaleX(1.045)">18:30</span></div>
<div class="nm" style="left:801.21px;top:193.06px"><span style="transform:scaleX(.872)">С. НИКОЛЕ</span></div><div class="pc" style="left:913.11px;top:193.56px"><span style="transform:scaleX(1.02)">49.94%</span></div><div class="tm" style="left:989.21px;top:193.76px"><span style="transform:scaleX(1.045)">18:30</span></div>
<div class="nm" style="left:801.21px;top:220.95px"><span style="transform:scaleX(.872)">СОПИШТЕ</span></div><div class="pc" style="left:913.11px;top:221.45px"><span style="transform:scaleX(1.02)">53.67%</span></div><div class="tm" style="left:989.21px;top:221.65px"><span style="transform:scaleX(1.045)">18:30</span></div>
<div class="nm" style="left:801.21px;top:248.84px"><span style="transform:scaleX(.872)">С. НАГОРИЧАНЕ</span></div><div class="pc" style="left:913.11px;top:249.34px"><span style="transform:scaleX(1.02)">61.21%</span></div><div class="tm" style="left:989.21px;top:249.54px"><span style="transform:scaleX(1.045)">18:30</span></div>
<div class="nm" style="left:801.21px;top:276.73px"><span style="transform:scaleX(.872)">СТРУГА</span></div><div class="pc" style="left:913.11px;top:277.23px"><span style="transform:scaleX(1.02)">39.53%</span></div><div class="tm" style="left:989.21px;top:277.43px"><span style="transform:scaleX(1.045)">18:30</span></div>
<div class="nm" style="left:801.21px;top:304.62px"><span style="transform:scaleX(.872)">СТРУМИЦА</span></div><div class="pc" style="left:913.11px;top:305.12px"><span style="transform:scaleX(1.02)">51.81%</span></div><div class="tm" style="left:989.21px;top:305.32px"><span style="transform:scaleX(1.045)">18:30</span></div>
<div class="nm" style="left:801.21px;top:332.51px"><span style="transform:scaleX(.872)">СТУДЕНИЧАНИ</span></div><div class="pc" style="left:913.11px;top:333.01px"><span style="transform:scaleX(1.02)">43.85%</span></div><div class="tm" style="left:989.21px;top:333.21px"><span style="transform:scaleX(1.045)">18:30</span></div>
<div class="nm" style="left:801.21px;top:360.4px"><span style="transform:scaleX(.872)">ТЕАРЦЕ</span></div><div class="pc" style="left:913.11px;top:360.9px"><span style="transform:scaleX(1.02)">41.46%</span></div><div class="tm" style="left:989.21px;top:361.1px"><span style="transform:scaleX(1.045)">18:30</span></div>
<div class="nm" style="left:801.21px;top:388.29px"><span style="transform:scaleX(.872)">ТЕТОВО</span></div><div class="pc" style="left:913.11px;top:388.79px"><span style="transform:scaleX(1.02)">46.76%</span></div><div class="tm" style="left:989.21px;top:388.99px"><span style="transform:scaleX(1.045)">18:30</span></div>
<div class="nm" style="left:801.21px;top:416.18px"><span style="transform:scaleX(.872)">ЦЕНТАР</span></div><div class="pc" style="left:913.11px;top:416.68px"><span style="transform:scaleX(1.02)">49.26%</span></div><div class="tm" style="left:989.21px;top:416.88px"><span style="transform:scaleX(1.045)">18:30</span></div>
<div class="nm" style="left:801.21px;top:444.07px"><span style="transform:scaleX(.872)">Ц. ЖУПА</span></div><div class="pc" style="left:913.11px;top:444.57px"><span style="transform:scaleX(1.02)">21.3%</span></div><div class="tm" style="left:989.21px;top:444.77px"><span style="transform:scaleX(1.045)">18:30</span></div>
<div class="nm" style="left:801.21px;top:471.96px"><span style="transform:scaleX(.872)">ЧАИР</span></div><div class="pc" style="left:913.11px;top:472.46px"><span style="transform:scaleX(1.02)">51.47%</span></div><div class="tm" style="left:989.21px;top:472.66px"><span style="transform:scaleX(1.045)">18:30</span></div>
<div class="nm" style="left:801.21px;top:499.85px"><span style="transform:scaleX(.872)">ЧАШКА</span></div><div class="pc" style="left:913.11px;top:500.35px"><span style="transform:scaleX(1.02)">71.63%</span></div><div class="tm" style="left:989.21px;top:500.55px"><span style="transform:scaleX(1.045)">18:30</span></div>
<div class="nm" style="left:801.21px;top:527.74px"><span style="transform:scaleX(.872)">Ч. ОБЛЕШЕВО</span></div><div class="pc" style="left:913.11px;top:528.24px"><span style="transform:scaleX(1.02)">56.66%</span></div><div class="tm" style="left:989.21px;top:528.44px"><span style="transform:scaleX(1.045)">18:30</span></div>
<div class="nm" style="left:801.21px;top:555.63px"><span style="transform:scaleX(.872)">Ч. САНДЕВО</span></div><div class="pc" style="left:913.11px;top:556.13px"><span style="transform:scaleX(1.02)">58.93%</span></div><div class="tm" style="left:989.21px;top:556.33px"><span style="transform:scaleX(1.045)">18:30</span></div>
<div class="nm" style="left:801.21px;top:583.52px"><span style="transform:scaleX(.872)">ШТИП</span></div><div class="pc" style="left:913.11px;top:584.02px"><span style="transform:scaleX(1.02)">48.95%</span></div><div class="tm" style="left:989.21px;top:584.22px"><span style="transform:scaleX(1.045)">18:30</span></div>
<div class="nm" style="left:801.21px;top:611.41px"><span style="transform:scaleX(.872)">Ш. ОРИЗАРИ</span></div><div class="pc" style="left:913.11px;top:611.91px"><span style="transform:scaleX(1.02)">35.33%</span></div><div class="tm" style="left:989.21px;top:612.11px"><span style="transform:scaleX(1.045)">18:30</span></div>
</div>
</body></html>
